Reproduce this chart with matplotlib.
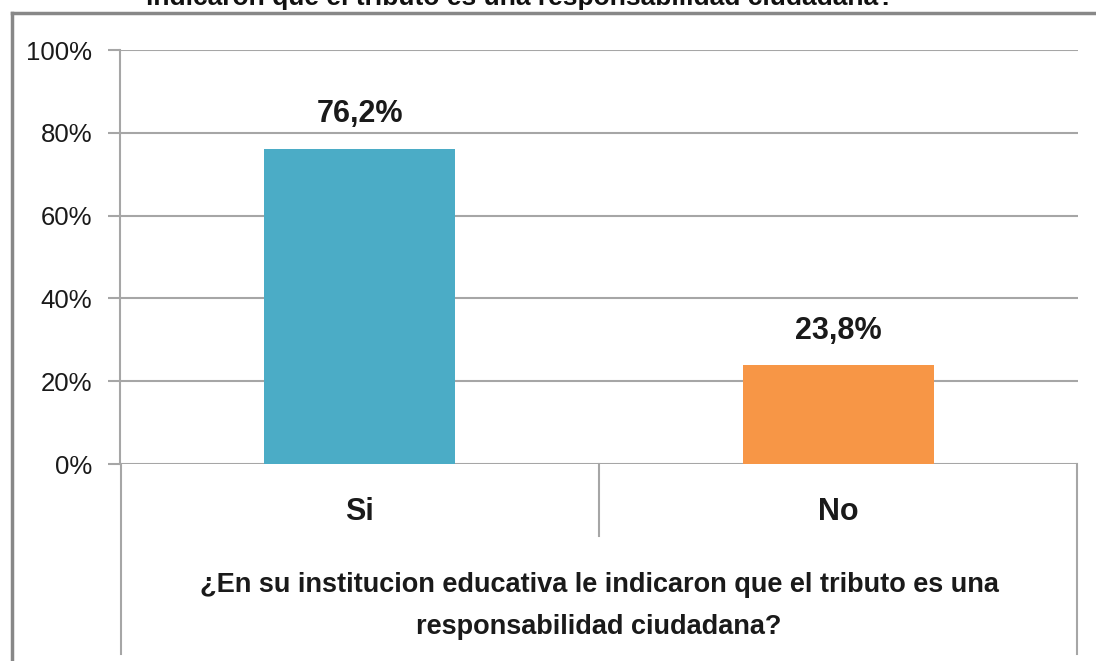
import matplotlib
matplotlib.use("Agg")
import matplotlib.pyplot as plt
from matplotlib.lines import Line2D
from matplotlib.ticker import FuncFormatter

categories = ["Si", "No"]
values = [76.2, 23.8]
value_labels = ["76,2%", "23,8%"]
bar_colors = ["#4bacc6", "#f79646"]
yticks = [0, 20, 40, 60, 80, 100]
axis_title = "¿En su institucion educativa le indicaron que el tributo es una\nresponsabilidad ciudadana?"
cut_title = "indicaron que el tributo es una responsabilidad ciudadana?"

FONT = ["Liberation Sans Narrow", "Liberation Sans", "DejaVu Sans"]
plt.rcParams["font.family"] = FONT

W, H = 1096, 661
fig = plt.figure(figsize=(W / 100, H / 100), dpi=100)

def fx(px):
    return px / W

def fy(py):
    return 1 - py / H

grid_c = "#a6a6a6"
txt_c = "#1a1a1a"
ax = fig.add_axes([fx(120), fy(464), fx(1078) - fx(120), fy(50) - fy(464)])
x = list(range(len(categories)))
ax.bar(x, values, width=0.4, color=bar_colors, zorder=3)
ax.set_xlim(-0.5, len(categories) - 0.5)
ax.set_ylim(0, 100)
ax.set_yticks(yticks)
ax.yaxis.set_major_formatter(FuncFormatter(lambda v, p: f"{v:.0f}%"))
ax.tick_params(axis="y", length=9, color=grid_c, width=1.5, labelsize=18.5,
               pad=11, labelcolor=txt_c)
ax.tick_params(axis="x", bottom=False, labelbottom=False)
ax.grid(axis="y", color=grid_c, linewidth=1.5, zorder=0)
for s in ["top", "right", "bottom"]:
    ax.spines[s].set_visible(False)
ax.spines["left"].set_color(grid_c)
ax.spines["left"].set_linewidth(1.5)

for xi, v, lab in zip(x, values, value_labels):
    ax.annotate(lab, (xi, v), xytext=(0, 14), textcoords="offset points",
                ha="center", va="bottom", fontsize=22, fontweight="bold",
                color=txt_c)

# multilevel category axis lines
lines = [
    ([fx(121), fx(121)], [fy(464), fy(654)]),
    ([fx(1077), fx(1077)], [fy(464), fy(654)]),
    ([fx(599), fx(599)], [fy(464), fy(536)]),
]
for xs, ys in lines:
    fig.add_artist(Line2D(xs, ys, color=grid_c, linewidth=1.5))

for i, cat in enumerate(categories):
    xc = ax.transData.transform((i, 0))[0] / W
    fig.text(xc, fy(512), cat, ha="center", va="center", fontsize=22,
             fontweight="bold", color=txt_c)

fig.text(fx(599), fy(606), axis_title, ha="center", va="center", fontsize=19.5,
         fontweight="bold", color=txt_c, linespacing=1.85)

# outer chart frame
fig.add_artist(Line2D([fx(12), fx(12)], [fy(13), 0], color="#888888", linewidth=2.5))
fig.add_artist(Line2D([fx(12), 1], [fy(13), fy(13)], color="#888888", linewidth=2.5))

# cut-off title at the top
fig.text(fx(520), fy(5), cut_title, ha="center", va="baseline", fontsize=19,
         fontweight="bold", color="#111111")

fig.savefig("out.png", dpi=100)
